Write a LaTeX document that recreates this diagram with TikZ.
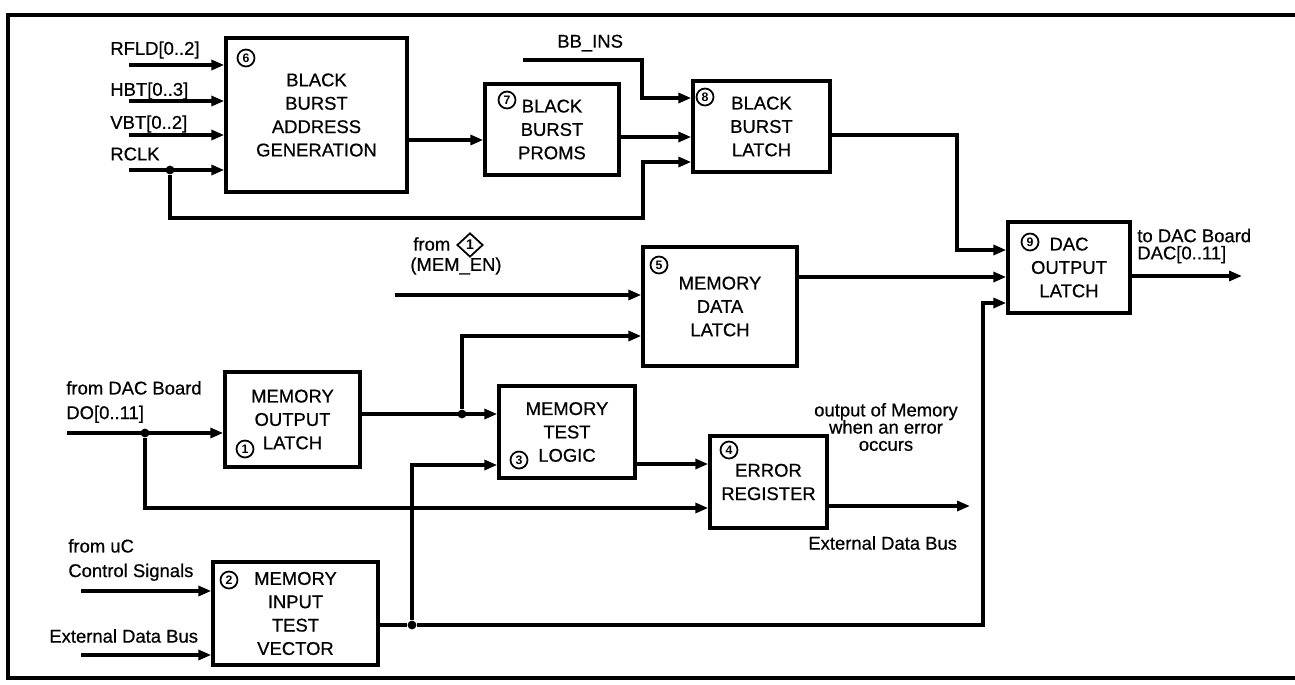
\documentclass[tikz,border=0pt]{standalone}
\usepackage{fontspec}
\setmainfont{Liberation Sans}[UprightFeatures={FakeBold=0.6}]
\usetikzlibrary{arrows.meta,shapes.geometric}

\newcommand{\tightfont}{\fontsize{10.5}{9.8}\selectfont\setlength{\lineskiplimit}{-20pt}\setlength{\lineskip}{0pt}}

\tikzset{
  blk/.style={draw, line width=2pt, align=center, inner sep=0pt,
    font=\fontsize{10.5}{13.3}\selectfont},
  num/.style={circle, draw, line width=1pt, inner sep=0pt, minimum size=0.34cm,
    font=\fontsize{7}{7}\selectfont\bfseries},
  sig/.style={inner sep=0pt, font=\fontsize{10.5}{14}\selectfont},
  tight/.style={inner sep=0pt, font=\tightfont},
  wire/.style={line width=2pt},
  arr/.style={wire, -{Triangle[length=2.6mm,width=2mm]}},
  dot/.style={circle, fill, inner sep=0pt, minimum size=5pt},
}

\begin{document}
\begin{tikzpicture}[x=0.02cm, y=-0.02cm]
  \useasboundingbox (0,0) rectangle (1295,684);
  \draw[line width=1.8pt] (1295,15) -- (8,15) -- (8,678) -- (1295,678);

  % ---------- blocks ----------
  \node[blk, minimum width=3.62cm, minimum height=3.08cm] (addrgen) at (316.5,115) {BLACK\\BURST\\ADDRESS\\GENERATION};
  \node[blk, minimum width=2.68cm, minimum height=1.82cm] (proms) at (552,129.5) {BLACK\\BURST\\PROMS};
  \node[blk, minimum width=2.74cm, minimum height=1.82cm] (bblatch) at (761.5,126.5) {BLACK\\BURST\\LATCH};
  \node[blk, minimum width=2.44cm, minimum height=1.82cm] (daclatch) at (1069,267.5) {DAC\\OUTPUT\\LATCH};
  \node[blk, minimum width=3.08cm, minimum height=2.38cm] (memdata) at (720,306.5) {MEMORY\\DATA\\LATCH};
  \node[blk, minimum width=2.70cm, minimum height=1.90cm] (memout) at (292.5,419.5) {MEMORY\\OUTPUT\\LATCH};
  \node[blk, minimum width=2.72cm, minimum height=1.84cm] (testlogic) at (567,432) {MEMORY\\TEST\\LOGIC};
  \node[blk, minimum width=2.34cm, minimum height=1.84cm] (errreg) at (768.5,482) {ERROR\\REGISTER};
  \node[blk, minimum width=3.30cm, minimum height=2.06cm] (inputvec) at (295.5,613.5) {MEMORY\\INPUT\\TEST\\VECTOR};

  % block numbers
  \node[num] (n1) at (245,449) {1};
  \node[num] (n2) at (229,580) {2};
  \node[num] (n3) at (519,460) {3};
  \node[num] (n4) at (729,450) {4};
  \node[num] (n5) at (659,265) {5};
  \node[num] (n6) at (246,58) {6};
  \node[num] (n7) at (507,100) {7};
  \node[num] (n8) at (705,97) {8};
  \node[num] (n9) at (1030,242) {9};

  % ---------- black burst path ----------
  \node[sig, anchor=west] (rfldlbl) at (110,50) {RFLD[0..2]};
  \node[sig, anchor=west] (hbtlbl) at (110,91) {HBT[0..3]};
  \node[sig, anchor=west] (vbtlbl) at (110,124) {VBT[0..2]};
  \node[sig, anchor=west] (rclklbl) at (110,154) {RCLK};
  \coordinate (rfld) at (129,65);
  \coordinate (hbt) at (129,101);
  \coordinate (vbt) at (129,135);
  \coordinate (rclk) at (129,170);
  \foreach \s in {rfld,hbt,vbt,rclk}
    \draw[arr] (\s) -- (\s -| addrgen.west);

  \node[dot] (clkdot) at (170,170) {};
  \coordinate (clkbend) at (643,218);
  \coordinate (clkin) at (643,162);
  \draw[arr] (clkdot) |- (clkbend) -- (clkin) -- (clkin -| bblatch.west);

  \coordinate (a2p) at (450,140);
  \draw[arr] (a2p -| addrgen.east) -- (a2p -| proms.west);
  \coordinate (p2l) at (650,137);
  \draw[arr] (p2l -| proms.east) -- (p2l -| bblatch.west);

  \node[sig, anchor=west] (bbinslbl) at (557,43) {BB\_INS};
  \coordinate (bbins) at (523,60);
  \coordinate (bbbend) at (642,98);
  \draw[arr] (bbins) -| (bbbend) -- (bbbend -| bblatch.west);

  \coordinate (l2d) at (957,135);
  \coordinate (l2dbend) at (957,250);
  \draw[arr] (l2d -| bblatch.east) -- (l2d) -- (l2dbend) -- (l2dbend -| daclatch.west);

  % ---------- memory path ----------
  \node[sig, anchor=west] (fromlbl) at (413,244) {from};
  \node[diamond, draw, line width=1pt, inner sep=0pt, minimum width=0.52cm, minimum height=0.48cm,
    font=\fontsize{8}{8}\selectfont\bfseries] (srcone) at (470,245) {1};
  \node[sig, anchor=west] (memenlbl) at (410,266) {(MEM\_EN)};
  \coordinate (memen) at (395,295);
  \draw[arr] (memen) -- (memen -| memdata.west);

  \coordinate (d2d) at (900,277);
  \draw[arr] (d2d -| memdata.east) -- (d2d -| daclatch.west);

  \coordinate (dacout) at (1242,276);
  \draw[arr] (dacout -| daclatch.east) -- (dacout);
  \node[tight, align=left, anchor=west] (daclbl) at (1137,246) {to DAC Board\\DAC[0..11]};

  \node[sig, align=left, anchor=west] (dolbl) at (66,402) {from DAC Board\\DO[0..11]};
  \coordinate (do) at (67,433);
  \draw[arr] (do) -- (do -| memout.west);
  \node[dot] (dodot) at (145,433) {};
  \coordinate (docorner) at (145,508);
  \draw[arr] (dodot) -- (docorner) -- (docorner -| errreg.west);

  \coordinate (o2t) at (430,414);
  \draw[arr] (o2t -| memout.east) -- (o2t -| testlogic.west);
  \node[dot] (outdot) at (462,414) {};
  \coordinate (outin) at (462,336);
  \draw[arr] (outdot) -- (outin) -- (outin -| memdata.west);

  \coordinate (t2e) at (670,464);
  \draw[arr] (t2e -| testlogic.east) -- (t2e -| errreg.west);

  \coordinate (errout) at (970,506);
  \draw[arr] (errout -| errreg.east) -- (errout);
  \node[tight, align=center] (errnote) at (886,427) {output of Memory\\when an error\\occurs};
  \node[sig, anchor=west] (extbus) at (808,543) {External Data Bus};

  % ---------- test vector ----------
  \node[sig, align=left, anchor=west] (uclbl) at (68,560) {from uC\\Control Signals};
  \node[sig, anchor=west] (extlbl) at (49,636) {External Data Bus};
  \coordinate (uc) at (81,591);
  \coordinate (ext) at (81,655);
  \draw[arr] (uc) -- (uc -| inputvec.west);
  \draw[arr] (ext) -- (ext -| inputvec.west);

  \node[dot] (vecdot) at (412,625) {};
  \coordinate (veccorner) at (983,625);
  \coordinate (vecin) at (983,303);
  \draw[wire] (vecdot -| inputvec.east) -- (vecdot);
  \draw[arr] (vecdot) -- (veccorner) -- (vecin) -- (vecin -| daclatch.west);
  \coordinate (vecup) at (412,465);
  \draw[arr] (vecdot) -- (vecup) -- (vecup -| testlogic.west);
\end{tikzpicture}
\end{document}
